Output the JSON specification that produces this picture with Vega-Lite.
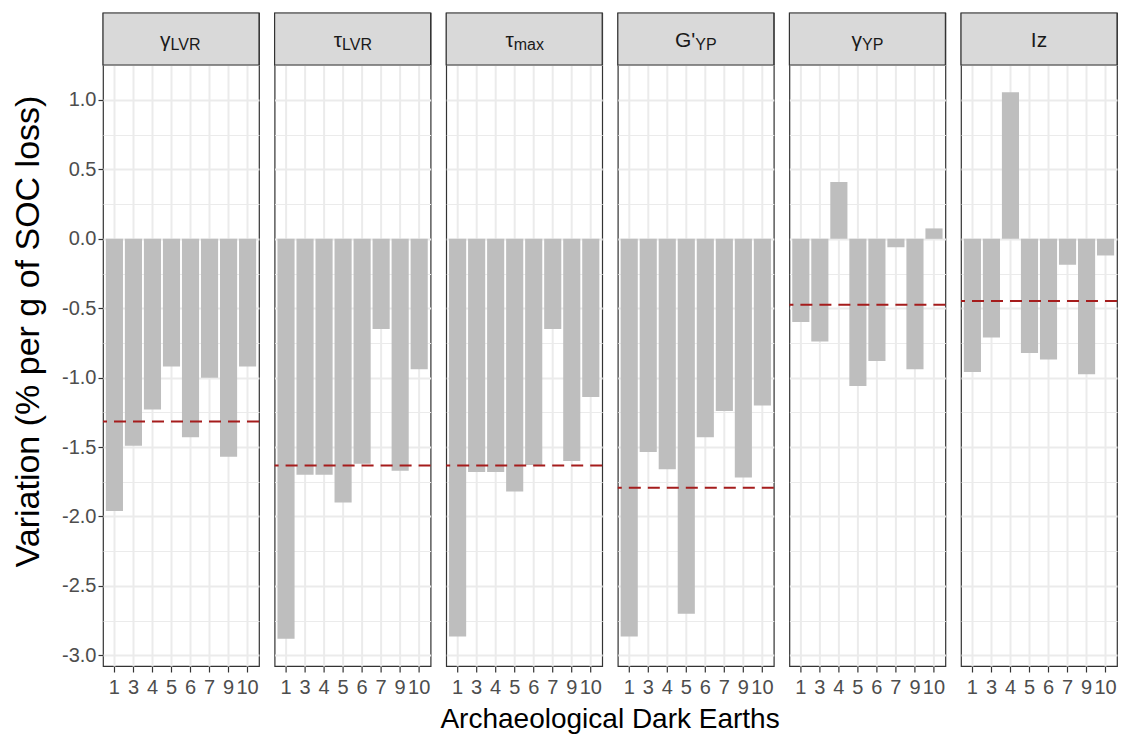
{
  "$schema": "https://vega.github.io/schema/vega-lite/v6.json",
  "padding": {"left": 11, "top": 11, "right": 4, "bottom": 2},
  "background": "white",
  "bounds": "flush",
  "data": {"values": [
      {"panel": "γLVR", "ade": 1, "value": -1.96},
      {"panel": "γLVR", "ade": 3, "value": -1.49},
      {"panel": "γLVR", "ade": 4, "value": -1.23},
      {"panel": "γLVR", "ade": 5, "value": -0.92},
      {"panel": "γLVR", "ade": 6, "value": -1.43},
      {"panel": "γLVR", "ade": 7, "value": -1.0},
      {"panel": "γLVR", "ade": 9, "value": -1.57},
      {"panel": "γLVR", "ade": 10, "value": -0.92},
      {"panel": "τLVR", "ade": 1, "value": -2.88},
      {"panel": "τLVR", "ade": 3, "value": -1.7},
      {"panel": "τLVR", "ade": 4, "value": -1.7},
      {"panel": "τLVR", "ade": 5, "value": -1.9},
      {"panel": "τLVR", "ade": 6, "value": -1.62},
      {"panel": "τLVR", "ade": 7, "value": -0.65},
      {"panel": "τLVR", "ade": 9, "value": -1.67},
      {"panel": "τLVR", "ade": 10, "value": -0.94},
      {"panel": "τmax", "ade": 1, "value": -2.865},
      {"panel": "τmax", "ade": 3, "value": -1.68},
      {"panel": "τmax", "ade": 4, "value": -1.68},
      {"panel": "τmax", "ade": 5, "value": -1.82},
      {"panel": "τmax", "ade": 6, "value": -1.63},
      {"panel": "τmax", "ade": 7, "value": -0.65},
      {"panel": "τmax", "ade": 9, "value": -1.6},
      {"panel": "τmax", "ade": 10, "value": -1.14},
      {"panel": "G'YP", "ade": 1, "value": -2.865},
      {"panel": "G'YP", "ade": 3, "value": -1.535},
      {"panel": "G'YP", "ade": 4, "value": -1.66},
      {"panel": "G'YP", "ade": 5, "value": -2.7},
      {"panel": "G'YP", "ade": 6, "value": -1.43},
      {"panel": "G'YP", "ade": 7, "value": -1.24},
      {"panel": "G'YP", "ade": 9, "value": -1.72},
      {"panel": "G'YP", "ade": 10, "value": -1.2},
      {"panel": "γYP", "ade": 1, "value": -0.6},
      {"panel": "γYP", "ade": 3, "value": -0.74},
      {"panel": "γYP", "ade": 4, "value": 0.41},
      {"panel": "γYP", "ade": 5, "value": -1.06},
      {"panel": "γYP", "ade": 6, "value": -0.88},
      {"panel": "γYP", "ade": 7, "value": -0.06},
      {"panel": "γYP", "ade": 9, "value": -0.94},
      {"panel": "γYP", "ade": 10, "value": 0.075},
      {"panel": "Iz", "ade": 1, "value": -0.96},
      {"panel": "Iz", "ade": 3, "value": -0.71},
      {"panel": "Iz", "ade": 4, "value": 1.055},
      {"panel": "Iz", "ade": 5, "value": -0.823},
      {"panel": "Iz", "ade": 6, "value": -0.87},
      {"panel": "Iz", "ade": 7, "value": -0.187},
      {"panel": "Iz", "ade": 9, "value": -0.975},
      {"panel": "Iz", "ade": 10, "value": -0.12}
  ]},
  "title": {
    "text": "Archaeological Dark Earths",
    "orient": "bottom",
    "anchor": "middle",
    "frame": "bounds",
    "dx": 45,
    "fontSize": 28,
    "fontWeight": "normal",
    "font": "Liberation Sans",
    "color": "black",
    "offset": 9
  },
  "facet": {
    "column": {
      "field": "panel",
      "type": "nominal",
      "sort": ["γLVR", "τLVR", "τmax", "G'YP", "γYP", "Iz"],
      "header": null
    }
  },
  "spacing": {"column": 15.6},
  "spec": {
    "width": 156,
    "height": 653,
    "layer": [
      {
        "mark": {"type": "bar", "color": "#BEBEBE"},
        "encoding": {
          "x": {
            "field": "ade",
            "type": "ordinal",
            "scale": {"paddingInner": 0.1, "paddingOuter": 0.15},
            "axis": {
              "title": null,
              "labelFontSize": 20,
              "labelColor": "#4D4D4D",
              "labelOverlap": false,
              "labelBound": false,
              "labelAngle": 0,
              "tickColor": "#333333",
              "tickSize": 6,
              "tickWidth": 1.2,
              "labelPadding": 5,
              "domain": false,
              "grid": true,
              "gridColor": "#EBEBEB",
              "gridWidth": 2
            }
          },
          "y": {
            "field": "value",
            "type": "quantitative",
            "scale": {"domain": [-3.077, 1.6266], "nice": false, "zero": false},
            "axis": {
              "values": [-3, -2.5, -2, -1.5, -1, -0.5, 0, 0.5, 1],
              "labelExpr": "replace(format(datum.value, '.1f'), '−', '-')",
              "labelFontSize": 20,
              "labelColor": "#4D4D4D",
              "tickColor": "#333333",
              "tickSize": 5,
              "tickWidth": 1.2,
              "labelPadding": 2,
              "domain": false,
              "grid": true,
              "gridColor": "#EBEBEB",
              "gridWidth": 2,
              "title": "Variation (% per g of SOC loss)",
              "titleFontSize": 34,
              "titleFontWeight": "normal",
              "titleColor": "black",
              "titlePadding": 16,
              "titleY": 318
            }
          },
          "y2": {"datum": 0}
        }
      },
      {
        "mark": {"type": "rule", "color": "#A51C1C", "strokeDash": [12, 7], "strokeWidth": 2},
        "encoding": {
          "y": {
            "aggregate": "mean",
            "field": "value",
            "type": "quantitative",
            "axis": {
              "values": [-2.75, -2.25, -1.75, -1.25, -0.75, -0.25, 0.25, 0.75, 1.25],
              "grid": true,
              "gridColor": "#EBEBEB",
              "gridWidth": 1.2,
              "labels": false,
              "ticks": false,
              "domain": false,
              "title": null,
              "minExtent": 0,
              "maxExtent": 0
            }
          }
        }
      },
      {
        "transform": [
          {"aggregate": [{"op": "count", "as": "n"}], "groupby": ["panel"]}
        ],
        "layer": [
          {
            "mark": {"type": "rect", "fill": "#D9D9D9", "stroke": "#333333", "strokeWidth": 1.2},
            "encoding": {
              "y": {"datum": 1.252, "axis": null},
              "y2": {"datum": 1.6266}
            }
          },
          {
            "mark": {
              "type": "text",
              "align": "right",
              "baseline": "alphabetic",
              "fontSize": 21,
              "color": "#1A1A1A",
              "font": "Liberation Sans",
              "text": {"expr": "datum.panel == 'Iz' ? 'Iz' : datum.panel == \"G'YP\" ? \"G'\" : slice(datum.panel, 0, 1)"},
              "dx": {"expr": "datum.panel == 'Iz' ? 8.2 : datum.panel == \"G'YP\" ? -0.5 : datum.panel == 'γYP' ? -5.4 : -10.5"}
            },
            "encoding": {
              "y": {"datum": 1.382, "axis": null}
            }
          },
          {
            "mark": {
              "type": "text",
              "align": "left",
              "baseline": "alphabetic",
              "fontSize": 16,
              "dy": 3,
              "color": "#1A1A1A",
              "font": "Liberation Sans",
              "text": {"expr": "datum.panel == 'Iz' ? '' : datum.panel == \"G'YP\" ? 'YP' : slice(datum.panel, 1)"},
              "dx": {"expr": "datum.panel == 'Iz' ? 8.2 : datum.panel == \"G'YP\" ? -0.5 : datum.panel == 'γYP' ? -5.4 : -10.5"}
            },
            "encoding": {
              "y": {"datum": 1.382, "axis": null}
            }
          }
        ]
      }
    ],
    "resolve": {"axis": {"y": "independent"}}
  },
  "config": {
    "font": "Liberation Sans",
    "view": {"stroke": "#333333", "strokeWidth": 1.2},
    "axis": {"labelFont": "Liberation Sans", "titleFont": "Liberation Sans"}
  }
}
